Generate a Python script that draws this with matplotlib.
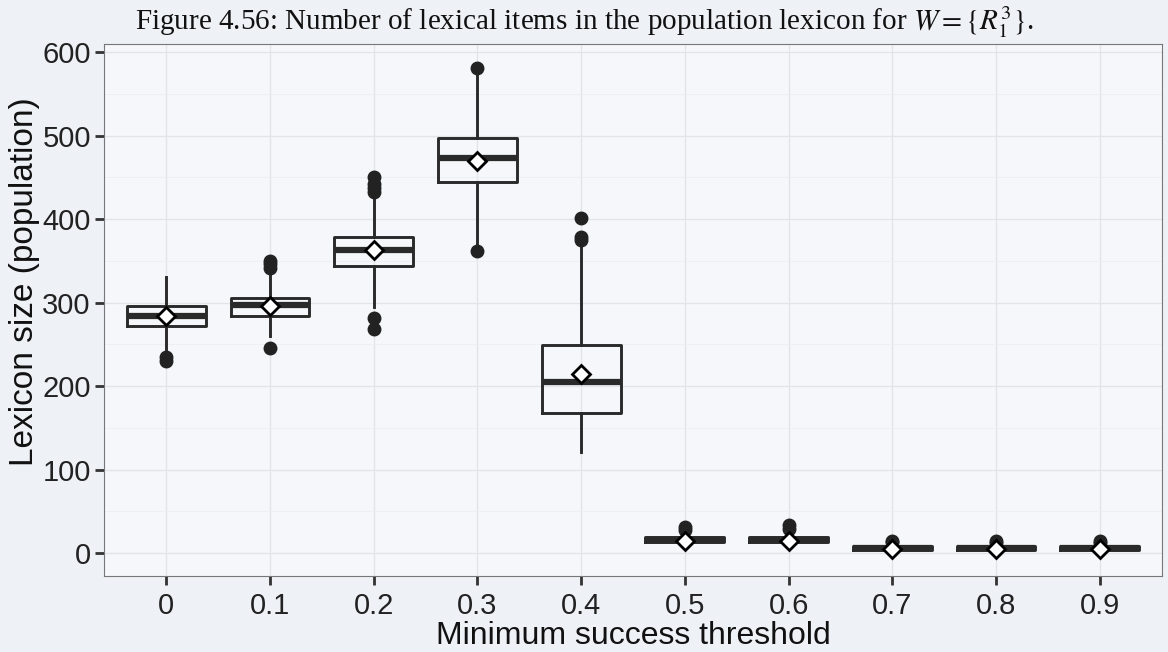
import matplotlib.pyplot as plt
import numpy as np

plt.rcParams['mathtext.fontset'] = 'stix'

thresholds = ["0", "0.1", "0.2", "0.3", "0.4", "0.5", "0.6", "0.7", "0.8", "0.9"]
whislo = [240, 260, 295, 366, 121, 11, 11, 2, 2, 2]
q1 = [272, 284, 344, 444, 168, 13, 13, 4, 4, 4]
med = [284, 297, 363, 473, 205, 16, 16, 6, 6, 6]
q3 = [296, 305, 378, 497, 249, 19, 19, 8, 8, 8]
whishi = [330, 338, 429, 575, 369, 22, 22, 10, 10, 10]
means = [284, 296, 363, 470, 214, 14, 14, 5, 5, 5]
fliers = [[230, 235], [245, 341, 346, 350], [268, 282, 432, 437, 442, 450], [362, 581],
          [375, 378, 401], [28, 31], [29, 33], [13, 15], [12, 14], [12, 14]]

stats = []
for i, lab in enumerate(thresholds):
    stats.append(dict(label=lab, whislo=whislo[i], q1=q1[i], med=med[i], q3=q3[i],
                      whishi=whishi[i], mean=means[i], fliers=fliers[i]))

fig = plt.figure(figsize=(11.68, 6.52), dpi=100)
fig.patch.set_facecolor('#eef1f6')
ax = fig.add_axes([104 / 1168, 1 - 576 / 652, (1162 - 104) / 1168, (576 - 44) / 652])
ax.set_facecolor('#f5f7fa')

pos = np.arange(len(thresholds))
ax.bxp(stats, positions=pos, widths=0.76, showmeans=True, patch_artist=False,
       boxprops=dict(color='#2a2a2a', linewidth=2.1),
       whiskerprops=dict(color='#2a2a2a', linewidth=2.1),
       capprops=dict(linewidth=0),
       medianprops=dict(color='#2a2a2a', linewidth=4.5),
       meanprops=dict(marker='D', markerfacecolor='white', markeredgecolor='black',
                      markersize=9, markeredgewidth=2),
       flierprops=dict(marker='o', markerfacecolor='#222222', markeredgecolor='#222222',
                       markersize=9))

ax.set_xlim(-0.6, 9.6)
ax.set_ylim(-27.5, 609.6)
ax.set_yticks([0, 100, 200, 300, 400, 500, 600])
ax.set_yticks([50, 150, 250, 350, 450, 550], minor=True)
ax.set_xticks(pos)
ax.set_xticklabels(thresholds)
ax.grid(True, which='major', color='#e2e4ea', linewidth=1)
ax.grid(True, which='minor', axis='y', color='#eceef2', linewidth=0.6)
ax.set_axisbelow(True)
ax.tick_params(axis='both', which='major', length=6.5, width=2, color='#333333',
               labelsize=21, labelcolor='#222222', pad=3)
ax.tick_params(axis='x', pad=5)
ax.tick_params(axis='y', which='minor', length=0)
for s in ax.spines.values():
    s.set_color('#777777')
    s.set_linewidth(0.8)

ax.set_xlabel("Minimum success threshold", fontsize=23, fontfamily='Liberation Sans',
              labelpad=1, color='#111111')
ax.set_ylabel("Lexicon size (population)", fontsize=24, fontfamily='Liberation Sans',
              labelpad=2, color='#111111')
ax.yaxis.label.set_y(0.553)
for t in ax.get_xticklabels() + ax.get_yticklabels():
    t.set_fontfamily('Liberation Sans')

fig.text(0.5, 1 - 22 / 652,
         r"Figure 4.56: Number of lexical items in the population lexicon for $W = \{R_1^3\}$.",
         ha='center', va='center', fontsize=21, fontfamily='Liberation Serif', color='#111111')

fig.savefig("out.png", dpi=100, facecolor=fig.get_facecolor())
